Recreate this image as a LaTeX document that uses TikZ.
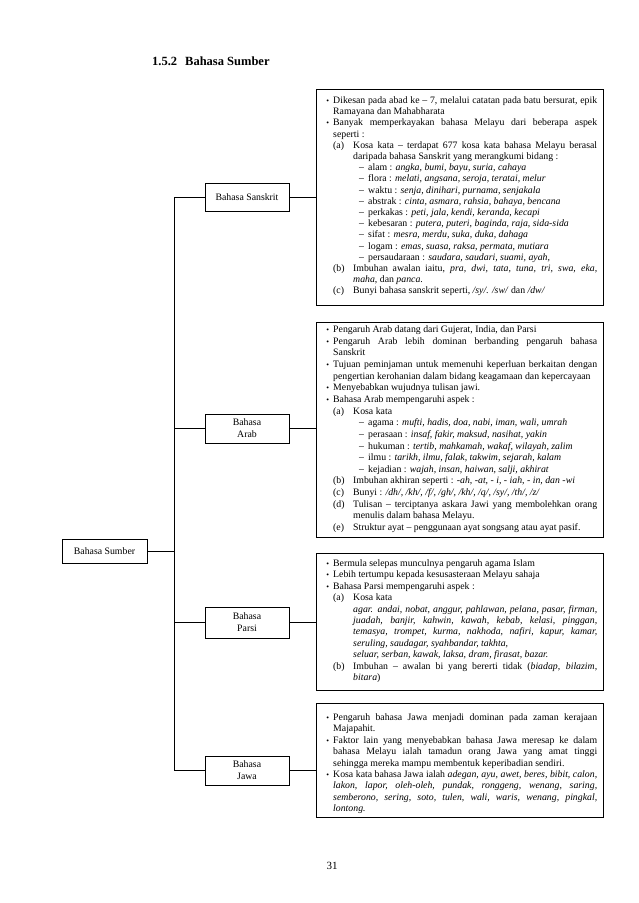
\documentclass[tikz,border=0pt]{standalone}
\usepackage{fontspec}
\setmainfont{Liberation Serif}
\newcommand\JL[2]{\hbox to \hsize{\hskip#1\relax #2}}
\newcommand\RL[2]{\hbox to \hsize{\hskip#1\relax #2\hfil}}
\newcommand\BU{\llap{\scalebox{0.8}{\textbullet}\hskip4pt}}
\newcommand\LB[1]{\rlap{(#1)}\hskip20pt}
\newcommand\DS{\hskip26pt\rlap{–}\hskip9pt}
\newcommand\TXT[2]{\vtop{\hsize=264pt \baselineskip=#1pt \lineskiplimit=-100pt \lineskip=0pt #2}}
\tikzset{
  every node/.style={font=\fontsize{9.8}{12}\selectfont},
  bbox/.style={draw, line width=0.9pt, minimum width=84pt, inner sep=0pt, align=center},
  rbox/.style={draw, line width=0.9pt, minimum width=287pt, inner sep=0pt, anchor=north west},
  tbox/.style={anchor=base west, inner sep=0pt},
  conn/.style={line width=0.9pt},
}
\begin{document}
\begin{tikzpicture}[x=1pt,y=-1pt]
\useasboundingbox (0,0) rectangle (638,903);
\node[anchor=base west, inner sep=0pt, font=\bfseries\fontsize{12.5}{14}\selectfont] (title) at (152,65) {1.5.2\hspace{8pt}Bahasa Sumber};

% branch boxes
\node[bbox, minimum width=85pt, minimum height=24pt] (sumber) at (104.5,551) {Bahasa Sumber};
\node[bbox, minimum height=28pt] (sans) at (247,197) {Bahasa Sanskrit};
\node[bbox, minimum height=29pt] (arab) at (247,428.5) {Bahasa\\Arab};
\node[bbox, minimum height=31pt] (parsi) at (247,622.5) {Bahasa\\Parsi};
\node[bbox, minimum height=29pt] (jawa) at (247,770.5) {Bahasa\\Jawa};

% right boxes
\node[rbox, minimum height=216pt] (sbox) at (316,89) {};
\node[rbox, minimum height=215pt] (abox) at (316,322) {};
\node[rbox, minimum height=137pt] (pbox) at (316,553) {};
\node[rbox, minimum height=114pt] (jbox) at (316,703) {};

% connectors
\coordinate (tr) at (174,0);
\draw[conn] (sans.west) -- (sans.west -| tr) -- (jawa.west -| tr) -- (jawa.west);
\draw[conn] (arab.west) -- (arab.west -| tr);
\draw[conn] (parsi.west) -- (parsi.west -| tr);
\draw[conn] (sumber.east) -- (sumber.east -| tr);
\draw[conn] (sans.east) -- (sans.east -| sbox.west);
\draw[conn] (arab.east) -- (arab.east -| abox.west);
\draw[conn] (parsi.east) -- (parsi.east -| pbox.west);
\draw[conn] (jawa.east) -- (jawa.east -| jbox.west);

% Sanskrit text
\node[tbox] (stext) at (333,103.5) {\TXT{11.2}{%
\JL{0pt}{\BU Dikesan pada abad ke – 7, melalui catatan pada batu bersurat, epik}
\RL{0pt}{Ramayana dan Mahabharata}
\JL{0pt}{\BU Banyak memperkayakan bahasa Melayu dari beberapa aspek}
\RL{0pt}{seperti :}
\JL{0pt}{\LB{a}Kosa kata – terdapat 677 kosa kata bahasa Melayu berasal}
\RL{20pt}{daripada bahasa Sanskrit yang merangkumi bidang :}
\RL{0pt}{\DS alam : \textit{angka, bumi, bayu, suria, cahaya}}
\RL{0pt}{\DS flora : \textit{melati, angsana, seroja, teratai, melur}}
\RL{0pt}{\DS waktu : \textit{senja, dinihari, purnama, senjakala}}
\RL{0pt}{\DS abstrak : \textit{cinta, asmara, rahsia, bahaya, bencana}}
\RL{0pt}{\DS perkakas : \textit{peti, jala, kendi, keranda, kecapi}}
\RL{0pt}{\DS kebesaran : \textit{putera, puteri, baginda, raja, sida-sida}}
\RL{0pt}{\DS sifat : \textit{mesra, merdu, suka, duka, dahaga}}
\RL{0pt}{\DS logam : \textit{emas, suasa, raksa, permata, mutiara}}
\RL{0pt}{\DS persaudaraan : \textit{saudara, saudari, suami, ayah,}}
\JL{0pt}{\LB{b}Imbuhan awalan iaitu, \textit{pra, dwi, tata, tuna, tri, swa, eka,}}
\RL{20pt}{\textit{maha}, dan \textit{panca}.}
\RL{0pt}{\LB{c}Bunyi bahasa sanskrit seperti, \textit{/sy/. /sw/} dan \textit{/dw/}}
}};

% Arab text
\node[tbox] (atext) at (333,332.5) {\TXT{11.65}{%
\RL{0pt}{\BU Pengaruh Arab datang dari Gujerat, India, dan Parsi}
\JL{0pt}{\BU Pengaruh Arab lebih dominan berbanding pengaruh bahasa}
\RL{0pt}{Sanskrit}
\JL{0pt}{\BU Tujuan peminjaman untuk memenuhi keperluan berkaitan dengan}
\RL{0pt}{pengertian kerohanian dalam bidang keagamaan dan kepercayaan}
\RL{0pt}{\BU Menyebabkan wujudnya tulisan jawi.}
\RL{0pt}{\BU Bahasa Arab mempengaruhi aspek :}
\RL{0pt}{\LB{a}Kosa kata}
\RL{0pt}{\DS agama : \textit{mufti, hadis, doa, nabi, iman, wali, umrah}}
\RL{0pt}{\DS perasaan : \textit{insaf, fakir, maksud, nasihat, yakin}}
\RL{0pt}{\DS hukuman : \textit{tertib, mahkamah, wakaf, wilayah, zalim}}
\RL{0pt}{\DS ilmu : \textit{tarikh, ilmu, falak, takwim, sejarah, kalam}}
\RL{0pt}{\DS kejadian : \textit{wajah, insan, haiwan, salji, akhirat}}
\RL{0pt}{\LB{b}Imbuhan akhiran seperti : \textit{-ah, -at, - i, - iah, - in, dan -wi}}
\RL{0pt}{\LB{c}Bunyi : \textit{/dh/, /kh/, /f/, /gh/, /kh/, /q/, /sy/, /th/, /z/}}
\JL{0pt}{\LB{d}Tulisan – terciptanya askara Jawi yang membolehkan orang}
\RL{20pt}{menulis dalam bahasa Melayu.}
\RL{0pt}{\LB{e}Struktur ayat – penggunaan ayat songsang atau ayat pasif.}
}};

% Parsi text
\node[tbox] (ptext) at (333,566.5) {\TXT{11.4}{%
\RL{0pt}{\BU Bermula selepas munculnya pengaruh agama Islam}
\RL{0pt}{\BU Lebih tertumpu kepada kesusasteraan Melayu sahaja}
\RL{0pt}{\BU Bahasa Parsi mempengaruhi aspek :}
\RL{0pt}{\LB{a}Kosa kata}
\JL{20pt}{\textit{agar. andai, nobat, anggur, pahlawan, pelana, pasar, firman,}}
\JL{20pt}{\textit{juadah, banjir, kahwin, kawah, kebab, kelasi, pinggan,}}
\JL{20pt}{\textit{temasya, trompet, kurma, nakhoda, nafiri, kapur, kamar,}}
\RL{20pt}{\textit{seruling, saudagar, syahbandar, takhta,}}
\RL{20pt}{\textit{seluar, serban, kawak, laksa, dram, firasat, bazar.}}
\JL{0pt}{\LB{b}Imbuhan – awalan bi yang bererti tidak (\textit{biadap, bilazim,}}
\RL{20pt}{\textit{bitara})}
}};

% Jawa text
\node[tbox] (jtext) at (333,720.5) {\TXT{11.4}{%
\JL{0pt}{\BU Pengaruh bahasa Jawa menjadi dominan pada zaman kerajaan}
\RL{0pt}{Majapahit.}
\JL{0pt}{\BU Faktor lain yang menyebabkan bahasa Jawa meresap ke dalam}
\JL{0pt}{bahasa Melayu ialah tamadun orang Jawa yang amat tinggi}
\RL{0pt}{sehingga mereka mampu membentuk keperibadian sendiri.}
\JL{0pt}{\BU Kosa kata bahasa Jawa ialah \textit{adegan, ayu, awet, beres, bibit, calon,}}
\JL{0pt}{\textit{lakon, lapor, oleh-oleh, pundak, ronggeng, wenang, saring,}}
\JL{0pt}{\textit{semberono, sering, soto, tulen, wali, waris, wenang, pingkal,}}
\RL{0pt}{\textit{lontong.}}
}};

\node[font=\fontsize{11}{13}\selectfont] (pg) at (332,866) {31};
\end{tikzpicture}
\end{document}
